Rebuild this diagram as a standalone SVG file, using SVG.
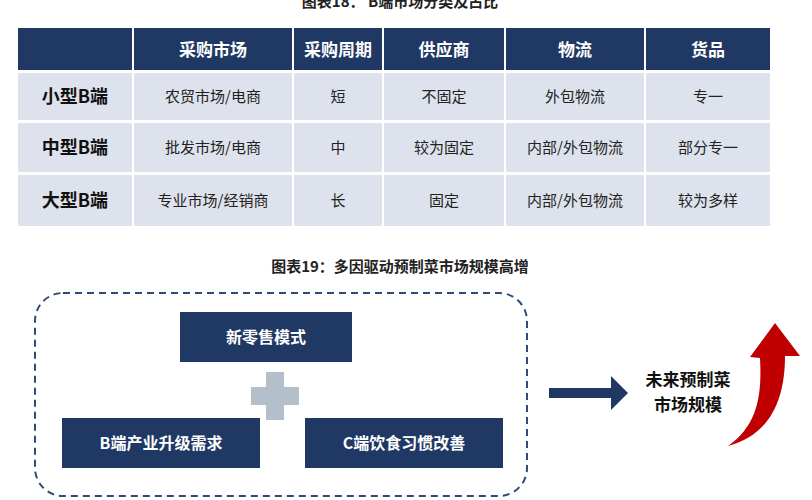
<svg xmlns="http://www.w3.org/2000/svg" width="812" height="500" viewBox="0 0 812 500">
<style>
text{font-family:"Noto Sans CJK SC","Liberation Sans",sans-serif;}
.h{fill:#1f3864;}
.c{fill:#dde2ec;}
.ht{fill:#fff;font-size:17px;font-weight:bold;text-anchor:middle;}
.rt{fill:#111;font-size:18px;font-weight:bold;text-anchor:middle;}
.ct{fill:#222;font-size:15px;text-anchor:middle;}
.bt{fill:#fff;font-size:16px;font-weight:bold;text-anchor:middle;}
</style>
<rect width="812" height="500" fill="#fff"/>
<text x="400" y="7" font-size="15" font-weight="bold" text-anchor="middle" fill="#222">图表18： B端市场分类及占比</text>
<g id="table">
<rect class="h" x="18" y="28" width="114" height="42"/>
<rect class="h" x="134" y="28" width="158" height="42"/>
<rect class="h" x="294" y="28" width="88" height="42"/>
<rect class="h" x="384" y="28" width="120" height="42"/>
<rect class="h" x="506" y="28" width="138" height="42"/>
<rect class="h" x="646" y="28" width="124" height="42"/>
<text class="ht" x="213" y="56">采购市场</text>
<text class="ht" x="338" y="56">采购周期</text>
<text class="ht" x="444" y="56">供应商</text>
<text class="ht" x="575" y="56">物流</text>
<text class="ht" x="708" y="56">货品</text>
<g>
<rect class="c" x="18" y="73" width="114" height="47"/><rect class="c" x="134" y="73" width="158" height="47"/><rect class="c" x="294" y="73" width="88" height="47"/><rect class="c" x="384" y="73" width="120" height="47"/><rect class="c" x="506" y="73" width="138" height="47"/><rect class="c" x="646" y="73" width="124" height="47"/>
<text class="rt" x="75" y="103">小型B端</text><text class="ct" x="213" y="102">农贸市场/电商</text><text class="ct" x="338" y="102">短</text><text class="ct" x="444" y="102">不固定</text><text class="ct" x="575" y="102">外包物流</text><text class="ct" x="708" y="102">专一</text>
</g>
<g>
<rect class="c" x="18" y="123" width="114" height="49"/><rect class="c" x="134" y="123" width="158" height="49"/><rect class="c" x="294" y="123" width="88" height="49"/><rect class="c" x="384" y="123" width="120" height="49"/><rect class="c" x="506" y="123" width="138" height="49"/><rect class="c" x="646" y="123" width="124" height="49"/>
<text class="rt" x="75" y="154">中型B端</text><text class="ct" x="213" y="153">批发市场/电商</text><text class="ct" x="338" y="153">中</text><text class="ct" x="444" y="153">较为固定</text><text class="ct" x="575" y="153">内部/外包物流</text><text class="ct" x="708" y="153">部分专一</text>
</g>
<g>
<rect class="c" x="18" y="175" width="114" height="51"/><rect class="c" x="134" y="175" width="158" height="51"/><rect class="c" x="294" y="175" width="88" height="51"/><rect class="c" x="384" y="175" width="120" height="51"/><rect class="c" x="506" y="175" width="138" height="51"/><rect class="c" x="646" y="175" width="124" height="51"/>
<text class="rt" x="75" y="207">大型B端</text><text class="ct" x="213" y="206">专业市场/经销商</text><text class="ct" x="338" y="206">长</text><text class="ct" x="444" y="206">固定</text><text class="ct" x="575" y="206">内部/外包物流</text><text class="ct" x="708" y="206">较为多样</text>
</g>
</g>
<text x="400" y="272" font-size="15" font-weight="bold" text-anchor="middle" fill="#222">图表19：多因驱动预制菜市场规模高增</text>
<rect x="35" y="293" width="492" height="203" rx="28" fill="none" stroke="#2e4a7a" stroke-width="2" stroke-dasharray="7,5"/>
<g id="n1"><rect x="180" y="312" width="172" height="50" fill="#1f3864"/><text class="bt" x="266" y="343">新零售模式</text></g>
<g id="plus"><path d="M266,372h18v15h15v18h-15v15h-18v-15h-15v-18h15z" fill="#b4bfcc"/></g>
<g id="n2"><rect x="62" y="418" width="198" height="50" fill="#1f3864"/><text class="bt" x="161" y="449">B端产业升级需求</text></g>
<g id="n3"><rect x="305" y="418" width="198" height="50" fill="#1f3864"/><text class="bt" x="404" y="449">C端饮食习惯改善</text></g>
<g id="connectors">
<path d="M549,388h62v-12l17,17l-17,17v-12h-62z" fill="#1f3864"/>
<path d="M728,446 C758,425 762,395 760,358 L750,357 L775,323 L800,356 L785,356 C785,400 770,435 728,446 Z" fill="#c00000"/>
</g>
<g id="result"><text x="688" y="386" font-size="17" font-weight="bold" text-anchor="middle" fill="#111">未来预制菜</text><text x="688" y="411" font-size="17" font-weight="bold" text-anchor="middle" fill="#111">市场规模</text></g>
</svg>
